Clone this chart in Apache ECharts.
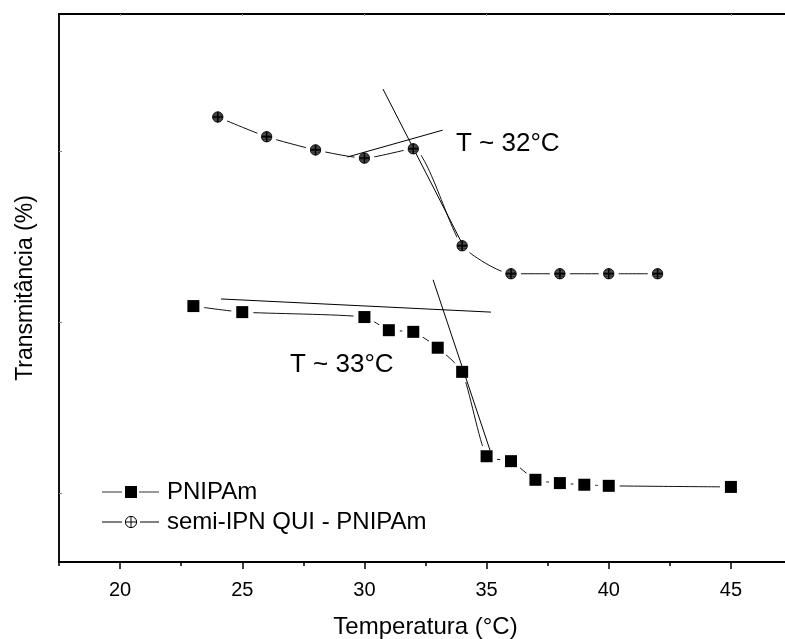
<!DOCTYPE html>
<html>
<head>
<meta charset="utf-8">
<title>Transmitância x Temperatura</title>
<script src="https://cdn.jsdelivr.net/npm/echarts@6/dist/echarts.min.js"></script>
<style>
    html, body { margin: 0; padding: 0; background: #fff; }
    #chart { width: 785px; height: 639px; }
</style>
</head>
<body>
<div id="chart"></div>
<script>
// valores (eixo y sem escala: 0..100 arbitrario)
var tempPNIPAm = [23, 25, 30, 31, 32, 33, 34, 35, 36, 37, 38, 39, 40, 45];
var transPNIPAm = [46.7, 45.6, 44.7, 42.3, 42.0, 39.1, 34.7, 19.3, 18.4, 15.0, 14.4, 14.1, 13.9, 13.7];
var tempSemi = [24, 26, 28, 30, 32, 34, 36, 38, 40, 42];
var transSemi = [81.2, 77.6, 75.2, 73.7, 75.4, 57.7, 52.6, 52.6, 52.6, 52.6];

// retas tangentes usadas para estimar a LCST
var tanSemiBaseX = [29.3, 33.2], tanSemiBaseY = [73.9, 78.8];
var tanSemiDropX = [30.76, 33.99], tanSemiDropY = [86.3, 58.2];
var tanPBaseX = [24.13, 35.18], tanPBaseY = [48.0, 45.6];
var tanPDropX = [32.81, 35.14], tanPDropY = [51.5, 20.4];

var xTicks = [20, 25, 30, 35, 40, 45];
var xMinorTicks = [17.5, 22.5, 27.5, 32.5, 37.5, 42.5, 47.5];
var yTicks = [12.6, 43.8, 75.0];

var FONT = '"Liberation Sans", Arial, sans-serif';

function pairs(xs, ys) {
    var out = [];
    for (var i = 0; i < xs.length; i++) out.push([xs[i], ys[i]]);
    return out;
}
function svgUrl(svg) {
    return 'image://data:image/svg+xml;charset=utf-8,' + encodeURIComponent(svg);
}

var semiMark = svgUrl(
    "<svg xmlns='http://www.w3.org/2000/svg' width='24' height='24' viewBox='0 0 24 24'>" +
    "<defs><clipPath id='c'><circle cx='12' cy='12' r='10.5'/></clipPath></defs>" +
    "<circle cx='12' cy='12' r='10.5' fill='#222'/>" +
    "<g clip-path='url(#c)' stroke='#999' stroke-width='1'>" +
    "<line x1='0' y1='4.5' x2='24' y2='4.5'/><line x1='0' y1='8' x2='24' y2='8'/>" +
    "<line x1='0' y1='16' x2='24' y2='16'/><line x1='0' y1='19.5' x2='24' y2='19.5'/></g>" +
    "<circle cx='12' cy='12' r='10.5' fill='none' stroke='#000' stroke-width='1.6'/>" +
    "<line x1='12' y1='1.5' x2='12' y2='22.5' stroke='#000' stroke-width='3'/>" +
    "<line x1='1.5' y1='12' x2='22.5' y2='12' stroke='#000' stroke-width='2'/>" +
    "</svg>");

var legendSquare = svgUrl(
    "<svg xmlns='http://www.w3.org/2000/svg' width='60' height='16' viewBox='0 0 60 16'>" +
    "<line x1='0' y1='8' x2='20' y2='8' stroke='#333' stroke-width='1'/>" +
    "<rect x='23' y='2' width='12' height='12' fill='#000'/>" +
    "<line x1='37' y1='8' x2='57' y2='8' stroke='#333' stroke-width='1'/>" +
    "</svg>");

var legendSemi = svgUrl(
    "<svg xmlns='http://www.w3.org/2000/svg' width='60' height='16' viewBox='0 0 60 16'>" +
    "<line x1='0' y1='8' x2='20' y2='8' stroke='#000' stroke-width='1'/>" +
    "<circle cx='29' cy='8' r='5.6' fill='#fff' stroke='#000' stroke-width='1'/>" +
    "<line x1='29' y1='2.4' x2='29' y2='13.6' stroke='#000' stroke-width='1'/>" +
    "<line x1='23.4' y1='8' x2='34.6' y2='8' stroke='#000' stroke-width='1'/>" +
    "<line x1='38' y1='8' x2='57' y2='8' stroke='#000' stroke-width='1'/>" +
    "</svg>");

function curve(name, xs, ys) {
    return {
        name: name, type: 'line', xAxisIndex: 0, data: pairs(xs, ys),
        smooth: 0.2, showSymbol: false, z: 2, silent: true,
        lineStyle: { color: '#111', width: 1 }
    };
}
function halo(xs, ys, size) {
    return {
        type: 'scatter', xAxisIndex: 0, data: pairs(xs, ys), z: 3, silent: true,
        symbol: 'circle', symbolSize: size, itemStyle: { color: '#fff', opacity: 1 }
    };
}
function tangent(xs, ys) {
    return {
        type: 'line', xAxisIndex: 0, data: pairs(xs, ys), showSymbol: false, z: 4, silent: true,
        lineStyle: { color: '#000', width: 1 }
    };
}

var chart = echarts.init(document.getElementById('chart'));
chart.setOption({
    animation: false,
    backgroundColor: '#fff',
    grid: { left: 59, right: -7, top: 14, bottom: 77, outerBoundsMode: 'none', containLabel: false },
    legend: {
        orient: 'vertical', left: 97, top: 475, itemGap: 6,
        itemWidth: 60, itemHeight: 16,
        textStyle: { fontFamily: FONT, fontSize: 24, color: '#000' },
        selectedMode: false,
        data: [
            { name: 'PNIPAm', icon: legendSquare },
            { name: 'semi-IPN QUI - PNIPAm', icon: legendSemi }
        ]
    },
    xAxis: [{
        type: 'value', min: 17.5, max: 47.5, position: 'bottom',
        name: 'Temperatura (°C)', nameLocation: 'middle', nameGap: 53,
        nameTextStyle: { fontFamily: FONT, fontSize: 24, color: '#000' },
        axisLine: { show: true, lineStyle: { color: '#000', width: 2 } },
        axisTick: { show: true, length: 7, customValues: xTicks, lineStyle: { color: '#000', width: 1.5 } },
        axisLabel: { customValues: xTicks, margin: 18, fontFamily: FONT, fontSize: 20, color: '#000' },
        splitLine: { show: false }
    }, {
        type: 'value', min: 17.5, max: 47.5, position: 'bottom',
        axisLine: { show: false },
        axisTick: { show: true, length: 4, customValues: xMinorTicks, lineStyle: { color: '#000', width: 1.5 } },
        axisLabel: { show: false },
        splitLine: { show: false }
    }, {
        type: 'value', min: 17.5, max: 47.5, position: 'top',
        axisLine: { show: true, lineStyle: { color: '#000', width: 2 } },
        axisTick: { show: true, inside: true, length: 2, customValues: xTicks, lineStyle: { color: '#999' } },
        axisLabel: { show: false },
        splitLine: { show: false }
    }],
    yAxis: {
        type: 'value', min: 0, max: 100,
        name: 'Transmitância (%)', nameLocation: 'middle', nameGap: 22,
        nameTextStyle: { fontFamily: FONT, fontSize: 23, color: '#000' },
        axisLine: { show: true, lineStyle: { color: '#111', width: 2 } },
        axisTick: { show: true, inside: true, length: 3, customValues: yTicks, lineStyle: { color: '#888' } },
        axisLabel: { show: false },
        splitLine: { show: false }
    },
    series: [
        curve('PNIPAm', tempPNIPAm, transPNIPAm),
        curve('semi-IPN QUI - PNIPAm', tempSemi, transSemi),
        halo(tempPNIPAm, transPNIPAm, 22),
        halo(tempSemi, transSemi, 20),
        tangent(tanSemiBaseX, tanSemiBaseY),
        tangent(tanSemiDropX, tanSemiDropY),
        tangent(tanPBaseX, tanPBaseY),
        tangent(tanPDropX, tanPDropY),
        {
            name: 'PNIPAm pontos', type: 'scatter', data: pairs(tempPNIPAm, transPNIPAm), z: 5, silent: true,
            symbol: 'rect', symbolSize: 12, itemStyle: { color: '#000', opacity: 1 }
        },
        {
            name: 'semi pontos', type: 'scatter', data: pairs(tempSemi, transSemi), z: 5, silent: true,
            symbol: semiMark, symbolSize: 12, itemStyle: { opacity: 1 }
        }
    ],
    graphic: [
        { type: 'text', left: 456, top: 131, style: { text: 'T ~ 32°C', font: '26px ' + FONT, fill: '#000' } },
        { type: 'text', left: 290, top: 352, style: { text: 'T ~ 33°C', font: '26px ' + FONT, fill: '#000' } }
    ]
});
</script>
</body>
</html>
